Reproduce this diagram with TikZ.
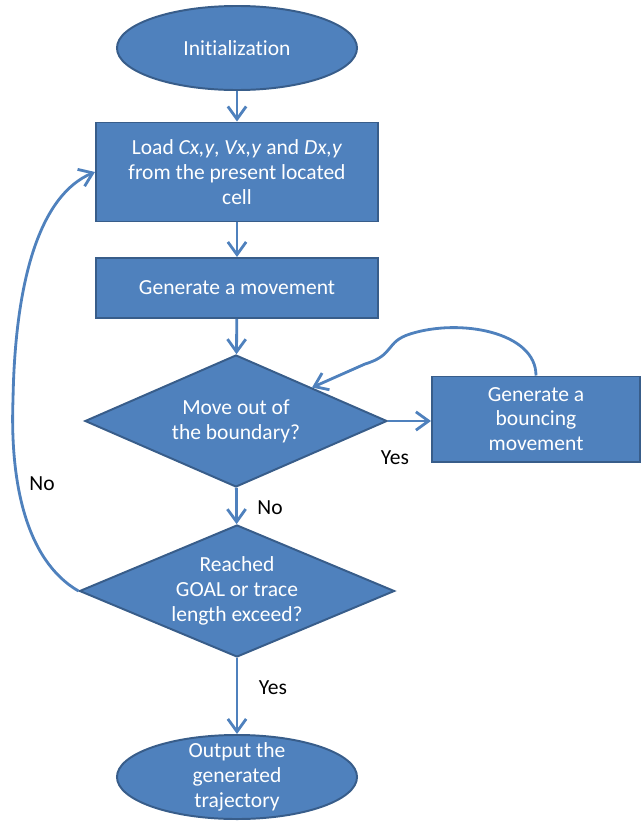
\documentclass[tikz,border=0pt]{standalone}
\usepackage{fontspec}
\setmainfont{Carlito}[Ligatures=NoCommon]
\usetikzlibrary{shapes.geometric,arrows.meta}
\definecolor{fillblue}{HTML}{4F81BD}
\definecolor{edgeblue}{HTML}{385D8A}
\newcommand{\chartfont}{\fontsize{15.3}{17.7}\selectfont}
\tikzset{
  base/.style={draw=edgeblue, line width=1.4pt, fill=fillblue, text=white, align=center, font=\chartfont},
  term/.style={base, ellipse, minimum width=6cm, minimum height=2.1cm, inner sep=0pt},
  proc/.style={base, rectangle, inner sep=0pt},
  decide/.style={base, diamond, aspect=2.35, inner sep=0pt},
  flow/.style={draw=fillblue, line width=2pt, -{Straight Barb[length=9pt,width=13pt]}},
  lbl/.style={font=\chartfont, text=black, inner sep=0pt}
}
\begin{document}
\begin{tikzpicture}[x=0.025cm, y=-0.025cm]
 \useasboundingbox (0,0) rectangle (642,822);

 \node[term] (init) at (237,48) {Initialization};
 \node[proc, minimum width=7.05cm, minimum height=2.475cm] (load) at (237,172)
   {Load \textit{Cx,y}, \textit{Vx,y} and \textit{Dx,y}\\from the present located\\cell};
 \node[proc, minimum width=7.05cm, minimum height=1.5cm] (move) at (237,288) {Generate a movement};
 \node[decide, minimum width=7.55cm, minimum height=3.3cm] (bound) at (236,421) {Move out of\\the boundary?};
 \node[proc, minimum width=5.2cm, minimum height=2.125cm] (bounce) at (536,419) {Generate a\\bouncing\\movement};
 \node[decide, minimum width=7.875cm, minimum height=3.3cm] (goal) at (237,591) {Reached\\GOAL or trace\\length exceed?};
 \node[term, inner ysep=-4pt] (result) at (237,777) {Output the\\generated\\trajectory};

 \node[lbl] (noA) at (270,508) {No};
 \node[lbl] (yesA) at (395,458) {Yes};
 \node[lbl] (noB) at (42,484) {No};
 \node[lbl] (yesB) at (273,688) {Yes};

 \draw[flow] (init) -- (load);
 \draw[flow] (load) -- (move);
 \draw[flow] (move) -- (bound);
 \draw[flow] (bound) -- (goal);
 \draw[flow] (goal) -- (result);
 \draw[flow] (bound.east) -- (bound.east -| bounce.west);
 \draw[flow] (bounce.north) .. controls (536,332) and (460,318) .. (410,334)
   .. controls (385,342) and (395,355) .. (365,364) -- (bound.north east);
 \draw[flow] (goal.west) .. controls (25,560) and (10,480) .. (13,400)
   .. controls (15,280) and (40,195) .. (load.west);

\end{tikzpicture}
\end{document}
